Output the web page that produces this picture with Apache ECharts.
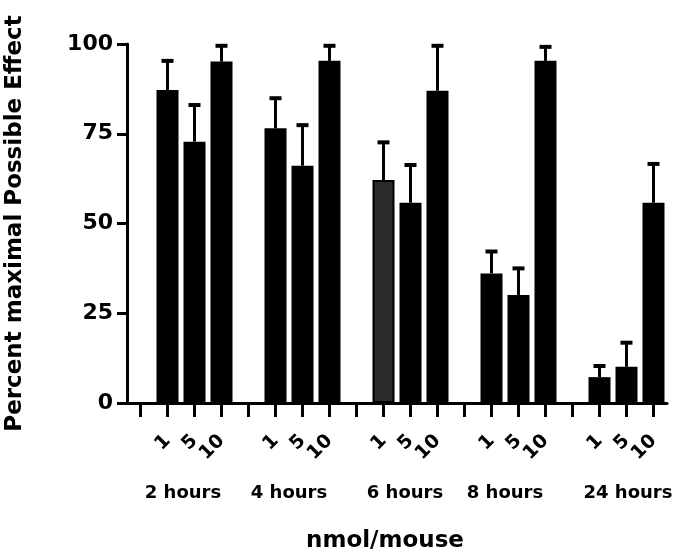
<!DOCTYPE html>
<html>
<head>
<meta charset="utf-8">
<script src="https://cdn.jsdelivr.net/npm/echarts@6/dist/echarts.min.js"></script>
<style>
    html, body { margin: 0; padding: 0; background: #fff; }
    #chart { width: 677px; height: 555px; }
</style>
</head>
<body>
<div id="chart"></div>
<script>
    // each group: an empty slot, then doses 1, 5, 10
    var groups = ['2 hours', '4 hours', '6 hours', '8 hours', '24 hours'];
    var doseLabels = ['', '1', '5', '10'];
    var yTicks = [0, 25, 50, 75, 100];

    // mean values per group (dose 1, 5, 10)
    var mean2h = [87.2, 72.8, 95.1];
    var mean4h = [76.5, 66.1, 95.3];
    var mean6h = [62.1, 55.8, 87.0];
    var mean8h = [36.1, 30.1, 95.3];
    var mean24h = [7.2, 10.1, 55.8];
    // upper end of the error bars
    var upper2h = [95.3, 83.0, 99.5];
    var upper4h = [84.9, 77.4, 99.5];
    var upper6h = [72.6, 66.3, 99.5];
    var upper8h = [42.2, 37.5, 99.2];
    var upper24h = [10.3, 16.8, 66.6];

    var means = [mean2h, mean4h, mean6h, mean8h, mean24h];
    var uppers = [upper2h, upper4h, upper6h, upper8h, upper24h];

    var cats = [], labels = [], barData = [], errData = [];
    groups.forEach(function (g, gi) {
        doseLabels.forEach(function (d, di) {
            var idx = cats.length;
            cats.push(g + '|' + di);
            labels.push(d);
            if (di === 0) {
                barData.push('-');
            } else {
                var v = means[gi][di - 1];
                var item = {value: v};
                // the 6 hours / 1 nmol bar is dark grey in the original
                if (gi === 2 && di === 1) {
                    item.itemStyle = {color: '#2b2b2b', borderColor: '#000', borderWidth: 2};
                }
                barData.push(item);
                errData.push([idx, v, uppers[gi][di - 1]]);
            }
        });
    });

    var chart = echarts.init(document.getElementById('chart'));
    var font = 'DejaVu Sans';
    var option = {
        backgroundColor: '#fff',
        animation: false,
        grid: {left: 127, right: 10, top: 44, bottom: 152, outerBoundsMode: 'none', containLabel: false},
        xAxis: [{
            // line and ticks only
            type: 'category',
            data: cats,
            z: 5,
            axisLine: {show: true, lineStyle: {color: '#000', width: 3}},
            axisTick: {
                show: true,
                alignWithLabel: true,
                interval: function () { return true; },
                length: 14,
                lineStyle: {color: '#000', width: 3}
            },
            axisLabel: {show: false, interval: 0},
            name: 'nmol/mouse',
            nameLocation: 'middle',
            nameGap: 127,
            nameTextStyle: {color: '#000', fontFamily: font, fontWeight: 'bold', fontSize: 23, padding: [0, 24, 0, 0]}
        }, {
            // dose labels
            type: 'category',
            data: cats,
            position: 'bottom',
            axisLine: {show: false},
            axisTick: {show: false},
            axisLabel: {
                interval: 0,
                rotate: 45,
                margin: 35,
                color: '#000',
                fontFamily: font,
                fontWeight: 'bold',
                fontSize: 19,
                formatter: function (v, i) { return labels[i]; }
            }
        }, {
            // time groups
            type: 'category',
            data: groups,
            position: 'bottom',
            offset: 73,
            axisLine: {show: false},
            axisTick: {show: false},
            axisLabel: {
                interval: 0,
                color: '#000',
                fontFamily: font,
                fontWeight: 'bold',
                fontSize: 18,
                formatter: function (v, i) { return '{g' + i + '|' + v + '}'; },
                rich: {
                    g0: {padding: [0, 0, 0, 4]},
                    g1: {},
                    g2: {padding: [0, 0, 0, 16]},
                    g3: {},
                    g4: {padding: [0, 0, 0, 30]}
                }
            }
        }],
        yAxis: {
            type: 'value',
            min: yTicks[0],
            max: yTicks[yTicks.length - 1],
            interval: 25,
            splitLine: {show: false},
            axisLine: {show: true, lineStyle: {color: '#000', width: 3}},
            axisTick: {show: true, length: 10, lineStyle: {color: '#000', width: 3}},
            axisLabel: {color: '#000', fontFamily: font, fontWeight: 'bold', fontSize: 22, margin: 14},
            name: 'Percent maximal Possible Effect',
            nameLocation: 'middle',
            nameGap: 100,
            nameTextStyle: {color: '#000', fontFamily: font, fontWeight: 'bold', fontSize: 23}
        },
        series: [{
            type: 'bar',
            data: barData,
            barWidth: 22,
            itemStyle: {color: '#000'}
        }, {
            type: 'custom',
            data: errData,
            z: 1,
            renderItem: function (params, api) {
                var top = api.coord([api.value(0), api.value(2)]);
                var base = api.coord([api.value(0), api.value(1)]);
                var cap = 6;
                return {
                    type: 'group',
                    children: [{
                        type: 'line',
                        shape: {x1: top[0], y1: top[1], x2: base[0], y2: base[1]},
                        style: {stroke: '#000', lineWidth: 3}
                    }, {
                        type: 'line',
                        shape: {x1: top[0] - cap, y1: top[1], x2: top[0] + cap, y2: top[1]},
                        style: {stroke: '#000', lineWidth: 4}
                    }]
                };
            }
        }]
    };
    chart.setOption(option);
</script>
</body>
</html>
